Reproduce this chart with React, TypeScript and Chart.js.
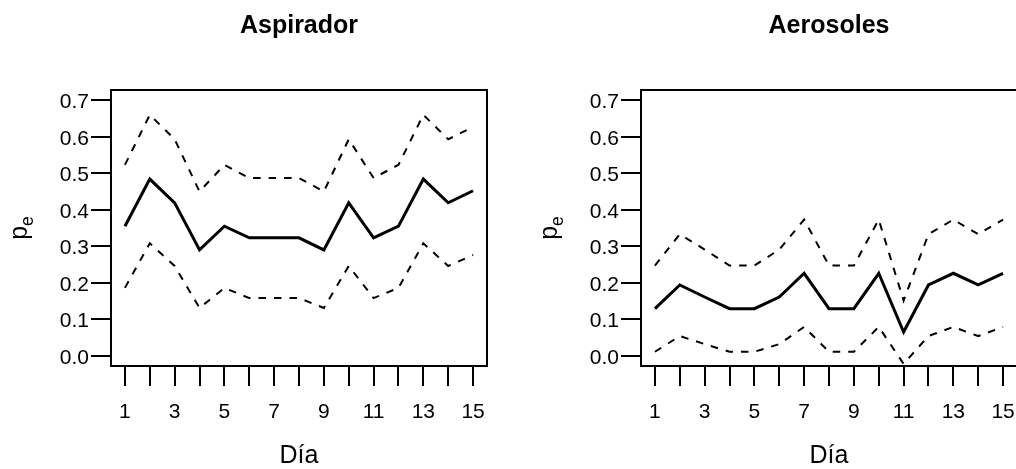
import React, { useEffect, useRef } from "react";
import { Chart, registerables } from "chart.js";

Chart.register(...registerables);

const days = [1, 2, 3, 4, 5, 6, 7, 8, 9, 10, 11, 12, 13, 14, 15];
const yTicks = [0, 0.1, 0.2, 0.3, 0.4, 0.5, 0.6, 0.7];
const xLabelDays = [1, 3, 5, 7, 9, 11, 13, 15];

const titles = ["Aspirador", "Aerosoles"];
const xTitle = "Día";

const aspMean = [0.355, 0.484, 0.419, 0.29, 0.355, 0.323, 0.323, 0.323, 0.29, 0.419, 0.323, 0.355, 0.484, 0.419, 0.452];
const aspUpper = [0.523, 0.66, 0.593, 0.45, 0.523, 0.487, 0.487, 0.487, 0.45, 0.593, 0.487, 0.523, 0.66, 0.593, 0.627];
const aspLower = [0.186, 0.308, 0.246, 0.131, 0.186, 0.158, 0.158, 0.158, 0.131, 0.246, 0.158, 0.186, 0.308, 0.246, 0.276];

const aeroMean = [0.129, 0.194, 0.161, 0.129, 0.129, 0.161, 0.226, 0.129, 0.129, 0.226, 0.065, 0.194, 0.226, 0.194, 0.226];
const aeroUpper = [0.247, 0.333, 0.291, 0.247, 0.247, 0.291, 0.373, 0.247, 0.247, 0.373, 0.151, 0.333, 0.373, 0.333, 0.373];
const aeroLower = [0.011, 0.054, 0.032, 0.011, 0.011, 0.032, 0.079, 0.011, 0.011, 0.079, -0.022, 0.054, 0.079, 0.054, 0.079];

const FONT = "'Liberation Sans', Arial, Helvetica, sans-serif";

const boxPlugin = {
  id: "boxPlugin",
  afterDatasetsDraw(chart: any) {
    const { ctx, chartArea } = chart;
    ctx.save();
    ctx.strokeStyle = "#000";
    ctx.lineWidth = 2;
    ctx.strokeRect(chartArea.left, chartArea.top, chartArea.right - chartArea.left, chartArea.bottom - chartArea.top);
    ctx.restore();
  },
};

const yTitlePlugin = {
  id: "yTitlePlugin",
  afterDraw(chart: any) {
    const { ctx, chartArea } = chart;
    const cy = (chartArea.top + chartArea.bottom) / 2;
    ctx.save();
    ctx.fillStyle = "#000";
    ctx.textBaseline = "alphabetic";
    ctx.textAlign = "left";
    const pFont = `25px ${FONT}`;
    const eFont = `17.5px ${FONT}`;
    ctx.font = pFont;
    const pw = ctx.measureText("p").width;
    ctx.font = eFont;
    const ew = ctx.measureText("e").width;
    const total = pw + ew;
    ctx.translate(27, cy);
    ctx.rotate(-Math.PI / 2);
    ctx.font = pFont;
    ctx.fillText("p", -total / 2, 0);
    ctx.font = eFont;
    ctx.fillText("e", -total / 2 + pw, 5.5);
    ctx.restore();
  },
};

function Panel({ title, mean, upper, lower, left }: { title: string; mean: number[]; upper: number[]; lower: number[]; left: number }) {
  const ref = useRef<HTMLCanvasElement | null>(null);
  useEffect(() => {
    if (!ref.current) return;
    const toPts = (arr: number[]) => days.map((d, i) => ({ x: d, y: arr[i] }));
    const chart = new Chart(ref.current, {
      type: "line",
      data: {
        datasets: [
          { data: toPts(mean), borderColor: "#000", borderWidth: 3, pointRadius: 0, tension: 0, fill: false },
          { data: toPts(upper), borderColor: "#000", borderWidth: 2, borderDash: [7.5, 8], pointRadius: 0, tension: 0, fill: false },
          { data: toPts(lower), borderColor: "#000", borderWidth: 2, borderDash: [7.5, 8], pointRadius: 0, tension: 0, fill: false },
        ],
      },
      options: {
        responsive: false,
        animation: false,
        layout: { padding: { left: 0, right: 21, top: 0, bottom: 0 } },
        plugins: {
          legend: { display: false },
          tooltip: { enabled: false },
          title: {
            display: true,
            text: title,
            fullSize: false,
            color: "#000",
            font: { family: FONT, size: 25, weight: "bold", lineHeight: 1 },
            padding: { top: 14, bottom: 51 },
          },
        },
        scales: {
          x: {
            type: "linear",
            min: 0.44,
            max: 15.56,
            afterBuildTicks: (s: any) => {
              s.ticks = days.map((v) => ({ value: v }));
            },
            afterFit: (s: any) => {
              s.height = 103;
            },
            grid: { drawOnChartArea: false, drawTicks: true, tickLength: 20, color: "#000", lineWidth: 2 },
            border: { display: false },
            ticks: {
              autoSkip: false,
              maxRotation: 0,
              minRotation: 0,
              padding: 14,
              color: "#000",
              font: { family: FONT, size: 21 },
              callback: (v: any) => (xLabelDays.includes(Number(v)) ? String(v) : ""),
            },
            title: {
              display: true,
              text: xTitle,
              color: "#000",
              font: { family: FONT, size: 25, lineHeight: 1 },
              padding: { top: 0, bottom: 0 },
            },
          },
          y: {
            type: "linear",
            min: -0.028,
            max: 0.728,
            afterBuildTicks: (s: any) => {
              s.ticks = yTicks.map((v) => ({ value: v }));
            },
            afterFit: (s: any) => {
              s.width = 111;
            },
            grid: { drawOnChartArea: false, drawTicks: true, tickLength: 20, color: "#000", lineWidth: 2 },
            border: { display: false },
            ticks: {
              autoSkip: false,
              padding: 2,
              labelOffset: 2,
              color: "#000",
              font: { family: FONT, size: 21 },
              callback: (v: any) => Number(v).toFixed(1),
            },
          },
        },
      } as any,
      plugins: [boxPlugin, yTitlePlugin],
    });
    return () => chart.destroy();
  }, [title, mean, upper, lower]);
  return (
    <canvas
      ref={ref}
      width={508}
      height={469}
      style={{ position: "absolute", left, top: 0, width: 508, height: 469 }}
    />
  );
}

export default function App() {
  return (
    <div style={{ position: "fixed", left: 0, top: 0, width: 1016, height: 469, overflow: "hidden", background: "#fff" }}>
      <Panel title={titles[0]} mean={aspMean} upper={aspUpper} lower={aspLower} left={0} />
      <Panel title={titles[1]} mean={aeroMean} upper={aeroUpper} lower={aeroLower} left={530} />
    </div>
  );
}
